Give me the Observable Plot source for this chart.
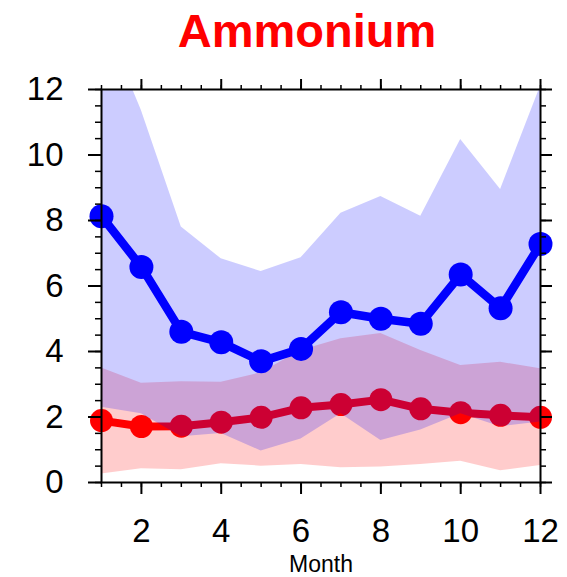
<!DOCTYPE html>
<html>
<head>
<meta charset="utf-8">
<script src="https://cdn.jsdelivr.net/npm/d3@7"></script>
<script src="https://cdn.jsdelivr.net/npm/@observablehq/plot@0.6"></script>
<style>
  html, body { margin: 0; padding: 0; background: #fff; }
  #wrap { width: 567px; height: 577px; overflow: hidden; }
  #title { height: 70px; width: 520px; padding-left: 47px; text-align: center;
           font-family: "Liberation Sans", Arial, sans-serif; font-weight: bold;
           font-size: 47px; line-height: 61.5px; color: #ff0000; }
</style>
</head>
<body>
<div id="wrap">
  <div id="title">Ammonium</div>
  <div id="chart"></div>
</div>
<script>
const months = [1, 2, 3, 4, 5, 6, 7, 8, 9, 10, 11, 12];
const blueMean = [8.13, 6.58, 4.60, 4.28, 3.70, 4.08, 5.20, 5.00, 4.85, 6.35, 5.32, 7.28];
const blueLow  = [2.30, 2.10, 1.40, 1.50, 0.96, 1.33, 2.10, 1.28, 1.60, 2.10, 1.70, 1.85];
const blueHigh = [14.3, 11.36, 7.80, 6.83, 6.44, 6.86, 8.22, 8.73, 8.13, 10.47, 8.95, 12.1];
const redMean  = [1.89, 1.71, 1.72, 1.84, 1.99, 2.28, 2.38, 2.53, 2.25, 2.13, 2.05, 1.99];
const redLow   = [0.26, 0.42, 0.39, 0.57, 0.50, 0.55, 0.45, 0.47, 0.55, 0.65, 0.36, 0.52];
const redHigh  = [3.50, 3.03, 3.08, 3.06, 3.35, 4.03, 4.39, 4.55, 4.03, 3.57, 3.67, 3.47];
const xMajor = [2, 4, 6, 8, 10, 12];
const yMajor = [0, 2, 4, 6, 8, 10, 12];

const rows = months.map((m, i) => ({
  month: m, bMean: blueMean[i], bLow: blueLow[i], bHigh: blueHigh[i],
  rMean: redMean[i], rLow: redLow[i], rHigh: redHigh[i]
}));
const xMinor = d3.range(1, 12.001, 0.5);
const yMinor = d3.range(0, 12.001, 0.5);
const blank = () => "";

const chart = Plot.plot({
  width: 567, height: 507,
  marginTop: 19, marginBottom: 95, marginLeft: 101, marginRight: 27,
  style: { fontFamily: "'Liberation Sans', Arial, sans-serif", color: "#000", background: "#fff" },
  x: { domain: [1, 12] },
  y: { domain: [0, 12] },
  marks: [
    Plot.areaY(rows, { x: "month", y1: "rLow", y2: "rHigh", fill: "#ff0000", fillOpacity: 0.2, clip: true }),
    Plot.line(rows, { x: "month", y: "rMean", stroke: "#ff0000", strokeWidth: 8 }),
    Plot.dot(rows, { x: "month", y: "rMean", r: 11.5, fill: "#ff0000", stroke: "none" }),
    Plot.areaY(rows, { x: "month", y1: "bLow", y2: "bHigh", fill: "#0000ff", fillOpacity: 0.2, clip: true }),
    Plot.line(rows, { x: "month", y: "bMean", stroke: "#0000ff", strokeWidth: 8.5 }),
    Plot.dot(rows, { x: "month", y: "bMean", r: 12, fill: "#0000ff", stroke: "none" }),
    Plot.frame({ stroke: "#000", strokeWidth: 2 }),
    Plot.axisX({ anchor: "bottom", ticks: xMinor, tickSize: 5, tickFormat: blank, label: null, strokeWidth: 1.5 }),
    Plot.axisX({ anchor: "bottom", ticks: xMajor, tickSize: 12, tickPadding: 24, fontSize: 33, strokeWidth: 2, label: null }),
    Plot.axisX({ anchor: "bottom", ticks: [], label: "Month", labelAnchor: "center", labelArrow: "none", labelOffset: 89, fontSize: 23 }),
    Plot.axisX({ anchor: "top", ticks: xMinor, tickSize: 5, tickFormat: blank, label: null, strokeWidth: 1.5 }),
    Plot.axisX({ anchor: "top", ticks: xMajor, tickSize: 11, tickFormat: blank, label: null, strokeWidth: 2 }),
    Plot.axisY({ anchor: "left", ticks: yMinor, tickSize: 6, tickFormat: blank, label: null, strokeWidth: 1.5 }),
    Plot.axisY({ anchor: "left", ticks: yMajor, tickSize: 13, tickPadding: 25, fontSize: 33, strokeWidth: 2, label: null }),
    Plot.axisY({ anchor: "right", ticks: yMinor, tickSize: 5, tickFormat: blank, label: null, strokeWidth: 1.5 }),
    Plot.axisY({ anchor: "right", ticks: yMajor, tickSize: 11, tickFormat: blank, label: null, strokeWidth: 2 })
  ]
});
document.getElementById("chart").appendChild(chart);
</script>
</body>
</html>
